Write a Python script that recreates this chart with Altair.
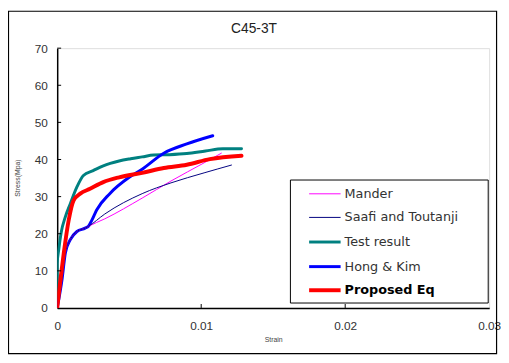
import altair as alt
import pandas as pd

# ---- data ----
test_strain = [0, 0, 0.00011, 0.00027, 0.00057, 0.00091, 0.00137, 0.00182, 0.0025, 0.0032, 0.0043, 0.0051, 0.0059, 0.0067, 0.0078, 0.009, 0.0103, 0.0115, 0.0128]
test_stress = [0, 12, 15.8, 20.2, 24.6, 28.1, 32.6, 35.7, 37.0, 38.3, 39.6, 40.2, 40.7, 41.2, 41.3, 41.6, 42.3, 42.9, 42.9]

prop_strain = [0, 0.00023, 0.00046, 0.0008, 0.00114, 0.0016, 0.00228, 0.0032, 0.0043, 0.0059, 0.0074, 0.009, 0.0106, 0.0128]
prop_stress = [0, 7.8, 14.9, 23.7, 29.0, 30.8, 32.1, 33.9, 35.2, 36.4, 37.7, 38.6, 40.1, 41.0]

hong_strain = [0, 0.00034, 0.00057, 0.00091, 0.00137, 0.00194, 0.00217, 0.0024, 0.00274, 0.00365, 0.005, 0.0059, 0.0074, 0.009, 0.0108]
hong_stress = [0, 7.8, 14.9, 18.4, 20.6, 21.5, 22.0, 23.6, 26.4, 30.8, 35.2, 37.4, 41.7, 44.2, 46.4]

mander_strain = [0, 0.00034, 0.00057, 0.00091, 0.00137, 0.00194, 0.00217, 0.0033, 0.0059, 0.0079, 0.0102, 0.0114]
mander_stress = [0, 7.8, 14.9, 18.4, 20.6, 21.5, 22.0, 24.0, 29.6, 34.2, 39.1, 41.7]

saafi_strain = [0, 0.00034, 0.00057, 0.00091, 0.00137, 0.00194, 0.00217, 0.0033, 0.0059, 0.0079, 0.0102, 0.0121]
saafi_stress = [0, 7.8, 14.9, 18.4, 20.6, 21.5, 22.0, 25.3, 30.8, 33.7, 36.4, 38.5]

series_names = ["Mander", "Saafi and Toutanji", "Test result", "Hong & Kim", "Proposed Eq"]
series_colors = ["#ff00ff", "#000080", "#008080", "#0000ff", "#ff0000"]
series_widths = [1, 1, 3, 3, 4]
series_data = [(mander_strain, mander_stress), (saafi_strain, saafi_stress),
               (test_strain, test_stress), (hong_strain, hong_stress),
               (prop_strain, prop_stress)]

x_ticks = [0, 0.01, 0.02, 0.03]
y_ticks = [0, 10, 20, 30, 40, 50, 60, 70]

W, H = 439, 264
FONT = "Liberation Sans"
LFONT = "DejaVu Sans"

xs = alt.Scale(domain=[0, 0.03], nice=False, zero=True)
ys = alt.Scale(domain=[0, 70], nice=False)

x_axis = alt.Axis(values=x_ticks, format="~g", title=None, ticks=False,
                  grid=False, domainColor="#000000", domainWidth=1.5,
                  labelFont=FONT, labelFontSize=12, labelColor="#333333",
                  labelPadding=13, labelFlush=False, labelOverlap=False)
y_axis = alt.Axis(values=y_ticks, title=None, ticks=False, grid=False,
                  domainColor="#000000", domainWidth=1.5,
                  labelFont=FONT, labelFontSize=12, labelColor="#333333",
                  labelPadding=10, labelOverlap=False, labelFlush=False)

layers = []

# outer frame
layers.append(alt.Chart(pd.DataFrame({"a": [0]})).mark_rect(
    fill=None, stroke="#000000", strokeWidth=1.2).encode(
    x=alt.value(-49.5), x2=alt.value(446.5), y=alt.value(-37.5), y2=alt.value(310.5)))

# curves drawn in order (thin first, proposed on top)
draw_order = [2, 3, 0, 1, 4]
for i in draw_order:
    sx, sy = series_data[i]
    df = pd.DataFrame({"strain": sx, "stress": sy, "o": list(range(len(sx)))})
    ch = alt.Chart(df).mark_line(
        color=series_colors[i], strokeWidth=series_widths[i], interpolate="monotone",
        strokeJoin="round", strokeCap="round", clip=True).encode(
        x=alt.X("strain:Q", scale=xs, axis=x_axis),
        y=alt.Y("stress:Q", scale=ys, axis=y_axis),
        order="o:Q")
    layers.append(ch)

# inward tick marks
layers.append(alt.Chart(pd.DataFrame({"v": y_ticks[1:]})).mark_rule(color="#000000", strokeWidth=1).encode(
    y=alt.Y("v:Q", scale=ys, axis=y_axis), x=alt.value(0), x2=alt.value(4)))
layers.append(alt.Chart(pd.DataFrame({"v": x_ticks[1:3]})).mark_rule(color="#000000", strokeWidth=1).encode(
    x=alt.X("v:Q", scale=xs, axis=x_axis), y=alt.value(H), y2=alt.value(H - 4)))

# legend box
layers.append(alt.Chart(pd.DataFrame({"a": [0]})).mark_rect(
    fill="#ffffff", stroke="#000000", strokeWidth=1).encode(
    x=alt.value(237), x2=alt.value(438), y=alt.value(134), y2=alt.value(259)))
leg_y = [148, 172, 197, 222, 246]
for i, name in enumerate(series_names):
    d = pd.DataFrame({"name": [name]})
    layers.append(alt.Chart(d).mark_rule(color=series_colors[i], strokeWidth=series_widths[i]).encode(
        x=alt.value(256), x2=alt.value(288), y=alt.value(leg_y[i])))
    layers.append(alt.Chart(d).mark_text(
        align="left", baseline="middle", font=LFONT, fontSize=13,
        fontWeight="bold" if name == "Proposed Eq" else "normal",
        color="#000000" if name == "Proposed Eq" else "#333333").encode(
        x=alt.value(292), y=alt.value(leg_y[i]), text="name:N"))

# title and axis titles as text
layers.append(alt.Chart(pd.DataFrame({"t": ["C45-3T"]})).mark_text(
    font=FONT, fontSize=14, color="#222222", align="center", baseline="middle").encode(
    x=alt.value(200), y=alt.value(-19), text="t:N"))
layers.append(alt.Chart(pd.DataFrame({"t": ["Strain"]})).mark_text(
    font=FONT, fontSize=7, color="#444444", align="center", baseline="middle").encode(
    x=alt.value(220), y=alt.value(297), text="t:N"))
layers.append(alt.Chart(pd.DataFrame({"t": ["Stress(Mpa)"]})).mark_text(
    font=FONT, fontSize=7, color="#444444", align="center", baseline="middle", angle=270).encode(
    x=alt.value(-40), y=alt.value(132), text="t:N"))

chart = alt.layer(*layers).properties(
    width=W, height=H,
    autosize=alt.AutoSizeParams(type="none"),
    padding={"left": 50, "top": 38, "right": 12, "bottom": 45},
).configure_view(stroke="#888888", strokeWidth=1).configure(background="#ffffff")

chart.save("out.html", embed_options={"renderer": "svg", "actions": False})
